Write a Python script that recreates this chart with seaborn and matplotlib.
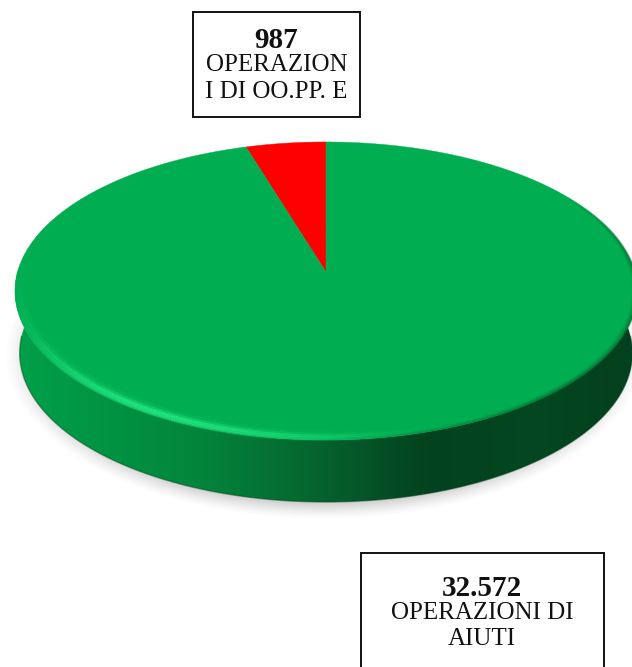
import numpy as np
import matplotlib
matplotlib.use("Agg")
import matplotlib.pyplot as plt
import seaborn as sns
from matplotlib.collections import LineCollection
from matplotlib.colors import LinearSegmentedColormap
from matplotlib.patches import Polygon, Rectangle

# slice shares in % (the drawn wedge is wider than 987/33559)
categories = ["OPERAZIONI DI OO.PP. E", "OPERAZIONI DI AIUTI"]
shares = [4.7, 95.3]
colors = ["#FF0000", "#00AD50"]

box_numbers = ["987", "32.572"]
box1_lines = ["OPERAZION", "I DI OO.PP. E"]
box2_lines = ["OPERAZIONI DI", "AIUTI"]

# pie geometry in pixels
apex_x, apex_y = 326, 272
sx, sy, tilt = 308.5, 146.6, 0.1275
depth = 62


def project(t, r=1.0):
    # t runs clockwise from 12 o'clock on the flat disc
    u, v = r * np.sin(t), r * np.cos(t)
    w = 1 + tilt * v
    return apex_x + sx * u / w, apex_y - sy * v / w


def rim_band(t, strength, rgb, bands):
    # fading strokes that follow the edge of the top face
    for r, a_scale, lw in bands:
        x, y = project(t, r)
        pts = np.column_stack([x, y])
        segs = np.stack([pts[:-1], pts[1:]], axis=1)
        lc = LineCollection(segs, colors=[rgb + (s * a_scale,) for s in strength[:-1]],
                            linewidths=lw, capstyle="butt", zorder=4)
        ax.add_collection(lc)


sns.set_theme(style="white")
plt.rcParams["font.family"] = ["Liberation Serif", "DejaVu Serif"]

fig = plt.figure(figsize=(6.32, 6.67), dpi=100)
ax = fig.add_axes([0, 0, 1, 1])
ax.set_xlim(0, 632)
ax.set_ylim(667, 0)
ax.axis("off")

# soft shadow under the disc
gx, gy = np.meshgrid(np.linspace(0, 632, 316), np.linspace(200, 570, 185))
dist = np.sqrt(((gx - 324) / 320) ** 2 + ((gy - 354) / 166) ** 2)
shadow = np.zeros(gx.shape + (4,))
shadow[..., :3] = 0.55
shadow[..., 3] = np.clip((1 - dist) / 0.1, 0, 1) ** 1.3 * 0.42
ax.imshow(shadow, extent=(0, 632, 570, 200), aspect="auto", zorder=1, interpolation="bilinear")

# side wall with horizontal gradient
tt = np.linspace(np.pi / 2 - 0.05, 3 * np.pi / 2 + 0.05, 300)
top_x, top_y = project(tt)
bot_x = apex_x + (top_x - apex_x) * 0.985
bot_y = top_y + depth
wall = Polygon(np.column_stack([np.r_[top_x, bot_x[::-1]], np.r_[top_y, bot_y[::-1]]]),
               closed=True, transform=ax.transData, fc="none", ec="none")
ax.add_patch(wall)
wall_cmap = LinearSegmentedColormap.from_list("wall", [
    (0.0, "#00A24A"), (0.16, "#009443"), (0.32, "#03843B"), (0.47, "#056A30"),
    (0.56, "#05582A"), (0.68, "#03421E"), (0.85, "#044720"), (1.0, "#03401D")])
grad = ax.imshow(np.linspace(0, 1, 400)[None, :], cmap=wall_cmap, extent=(0, 632, 520, 270),
                 aspect="auto", zorder=2)
grad.set_clip_path(wall)
ax.set_xlim(0, 632)
ax.set_ylim(667, 0)

# darker lower edge of the wall
ax.plot(bot_x[6:-6], bot_y[6:-6], color="#03401D", lw=1.0, alpha=0.45, zorder=2.5)

# top face: one wedge per share, going counter-clockwise from 12 o'clock
edges = -np.cumsum([0] + shares) / 100 * 2 * np.pi
for i in range(len(shares)):
    t = np.linspace(edges[i], edges[i + 1], 400)
    x, y = project(t)
    ax.fill(np.r_[apex_x, x], np.r_[apex_y, y], color=colors[i], lw=0.3, zorder=3)

# rim: light on the front-left, dark blur on the front-right
t_rim = np.linspace(np.pi * 0.85, np.pi * 1.75, 500)
light = np.exp(-((t_rim - np.pi * 1.17) / 0.55) ** 2)
light = light * np.clip((t_rim - np.pi * 0.85) / 0.4, 0, 1)
rim_band(t_rim, light, (0.13, 0.90, 0.50),
         [(0.998, 0.45, 2.0), (0.99, 0.85, 2.0), (0.98, 1.0, 2.0), (0.97, 0.5, 2.0), (0.958, 0.15, 2.5)])

t_dark = np.linspace(np.pi * 0.32, np.pi * 1.0, 400)
dark = np.clip((t_dark - np.pi * 0.32) / 0.5, 0, 1) * np.clip((np.pi - t_dark) / 0.8, 0, 1) * 0.8
rim_band(t_dark, dark, (0.02, 0.36, 0.17), [(1.0, 0.8, 1.5), (0.994, 0.4, 1.5), (0.988, 0.15, 1.5)])

# label boxes
ax.add_patch(Rectangle((193, 12), 167, 105, fc="white", ec="#111111", lw=1.4, zorder=5))
ax.add_patch(Rectangle((361, 553), 243, 130, fc="white", ec="#111111", lw=1.4, zorder=5))

text_kw = dict(ha="center", va="center", color="#111111", zorder=6)
ax.text(276.5, 40, box_numbers[0], fontsize=21, fontweight="bold", **text_kw)
ax.text(276.5, 65, box1_lines[0], fontsize=18, **text_kw)
ax.text(276.5, 92, box1_lines[1], fontsize=18, **text_kw)
ax.text(482, 588, box_numbers[1], fontsize=21, fontweight="bold", **text_kw)
ax.text(482, 613, box2_lines[0], fontsize=18, **text_kw)
ax.text(482, 639, box2_lines[1], fontsize=18, **text_kw)

fig.savefig("out.png", dpi=100, facecolor="white")
